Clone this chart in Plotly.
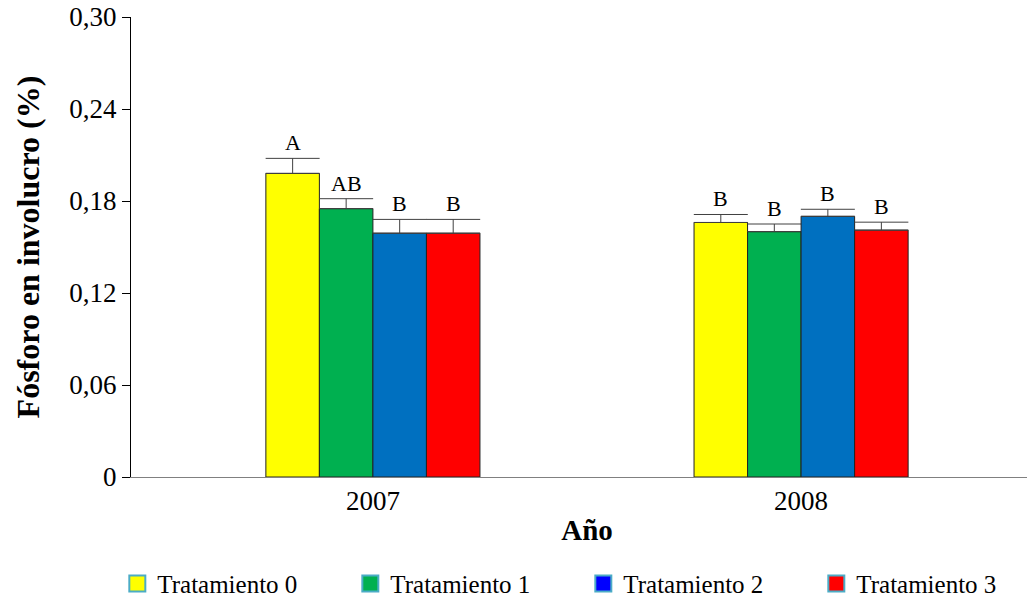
import plotly.graph_objects as go

years = ["2007", "2008"]
treatments = ["Tratamiento 0", "Tratamiento 1", "Tratamiento 2", "Tratamiento 3"]

t0 = [0.198, 0.166]
t1 = [0.175, 0.160]
t2 = [0.159, 0.170]
t3 = [0.159, 0.161]
values = [t0, t1, t2, t3]

err0 = [0.0098, 0.0052]
err1 = [0.0065, 0.0050]
err2 = [0.0090, 0.0046]
err3 = [0.0090, 0.0052]
errors = [err0, err1, err2, err3]

letters = [["A", "B"], ["AB", "B"], ["B", "B"], ["B", "B"]]

bar_colors = ["#FFFF00", "#00B050", "#0070C0", "#FF0000"]
legend_colors = ["#FFFF00", "#00B050", "#0000FF", "#FF0000"]

y_ticks = [0, 0.06, 0.12, 0.18, 0.24, 0.30]
y_ticktext = ["0", "0,06", "0,12", "0,18", "0,24", "0,30"]

FONT = "Liberation Serif, Times New Roman, serif"
W, H = 1035, 611
# the page body adds an 8px offset, so margins are shifted a little
ML, MR, MT, MB = 123, 0, 9, 142
XRANGE = [-0.565, 1.565]
BARGAP = 0.5

fig = go.Figure()

for name, vals, errs, col in zip(treatments, values, errors, bar_colors):
    fig.add_trace(go.Bar(
        x=years, y=vals, name=name, showlegend=False,
        marker=dict(color=col, line=dict(color="#222222", width=1)),
        error_y=dict(type="data", symmetric=False, array=errs,
                     arrayminus=[0] * len(errs), color="#404040",
                     thickness=1, width=27),
    ))

# legend-only entries (bordered squares like the original)
for name, col in zip(treatments, legend_colors):
    fig.add_trace(go.Scatter(
        x=[None], y=[None], mode="markers", name=name,
        marker=dict(symbol="square", size=19, color=col,
                    line=dict(color="#4BACC6", width=2)),
    ))

# significance letters above each error bar (x given as category index)
cat_px = (W - ML - MR) / (XRANGE[1] - XRANGE[0])
bar_px = cat_px * (1 - BARGAP) / len(treatments)
for i, (vals, errs, lets) in enumerate(zip(values, errors, letters)):
    for j in range(len(years)):
        fig.add_annotation(
            x=j, y=vals[j] + errs[j], text=lets[j], showarrow=False,
            xref="x", yref="y", yanchor="bottom", yshift=1,
            xshift=(i - (len(treatments) - 1) / 2) * bar_px,
            font=dict(family=FONT, size=22, color="black"),
        )

fig.update_layout(
    width=W, height=H,
    margin=dict(l=ML, r=MR, t=MT, b=MB, autoexpand=False),
    plot_bgcolor="white", paper_bgcolor="white",
    barmode="group", bargap=BARGAP, bargroupgap=0,
    font=dict(family=FONT, color="black"),
    legend=dict(orientation="h", x=-0.015, xanchor="left", y=-0.232,
                yanchor="middle", font=dict(family=FONT, size=25),
                entrywidth=188, itemwidth=30),
)

fig.update_xaxes(
    type="category", range=XRANGE, showline=True, linecolor="#808080",
    linewidth=1, ticks="", showgrid=False, zeroline=False, automargin=False,
    tickfont=dict(family=FONT, size=27),
    title=dict(text="<b>Año</b>", font=dict(family=FONT, size=29), standoff=4),
)
fig.update_yaxes(
    range=[0, 0.30], tickvals=y_ticks, ticktext=y_ticktext,
    showline=True, linecolor="black", linewidth=1, ticks="outside",
    ticklen=8, tickcolor="black", showgrid=False, zeroline=False,
    automargin=False, ticklabeloverflow="allow",
    tickfont=dict(family=FONT, size=27),
    title=dict(text="<b>Fósforo en involucro (%)</b>",
               font=dict(family=FONT, size=32), standoff=20),
)

fig.write_html("out.html")
